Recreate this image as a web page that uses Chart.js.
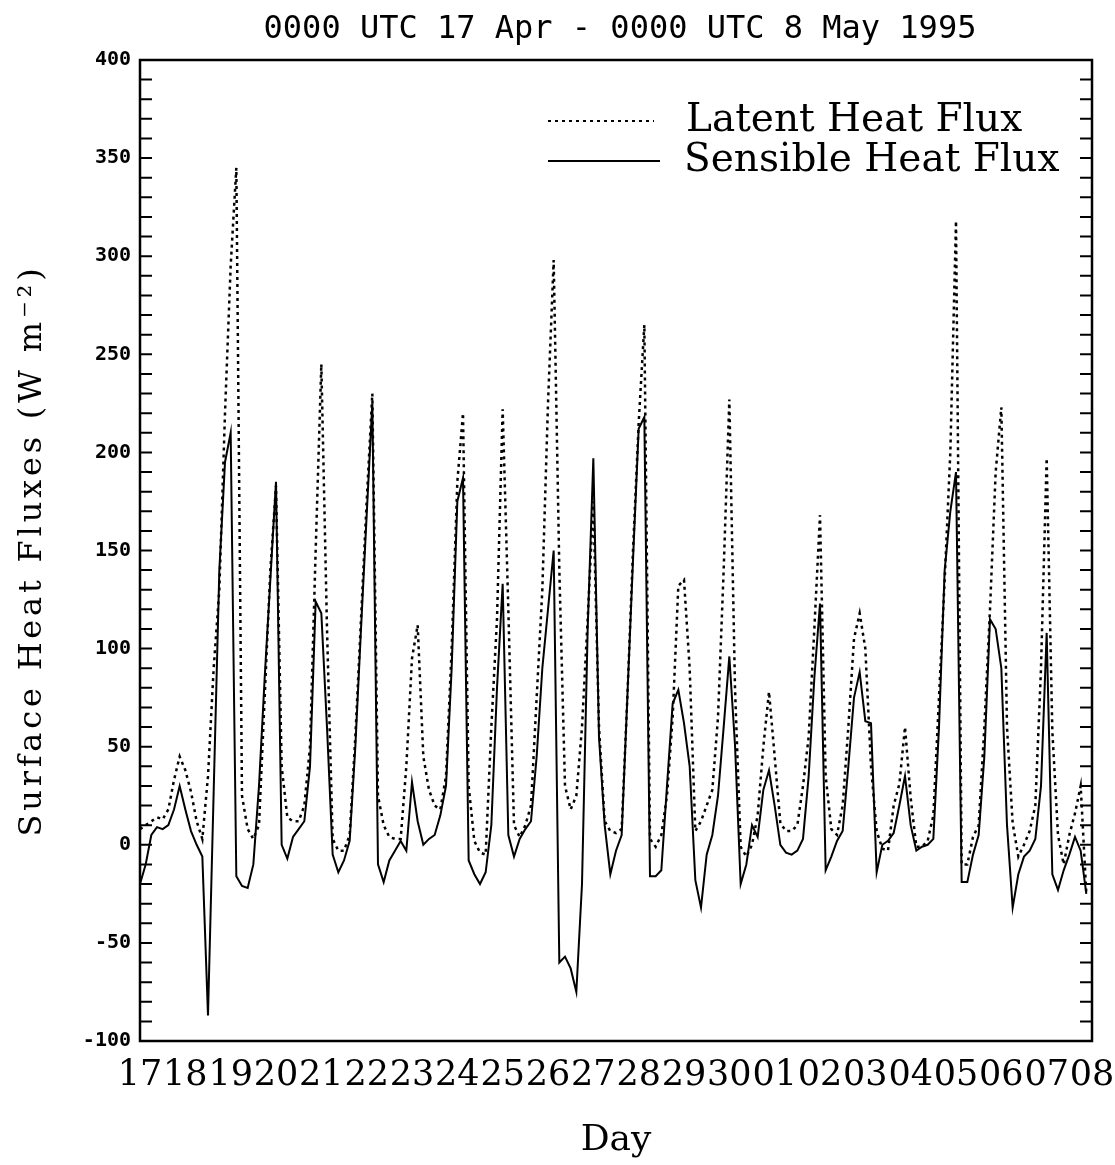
<!DOCTYPE html>
<html>
<head>
<meta charset="utf-8">
<script src="https://cdn.jsdelivr.net/npm/chart.js@4.4.1/dist/chart.umd.min.js"></script>
<style>
html,body{margin:0;padding:0;background:#fff;}
#wrap{width:1115px;height:1165px;position:relative;background:#fff;}
canvas{display:block;}
</style>
</head>
<body>
<div id="wrap"><canvas id="c" width="1115" height="1165"></canvas></div>
<script>
// ---- Data (3-hourly values, 8 per day, starting 0000 UTC 17 Apr 1995) ----
const dayLabels = ['17','18','19','20','21','22','23','24','25','26','27','28','29','30','01','02','03','04','05','06','07','08'];
const samplesPerDay = 8;

const latentHeatFlux = [
  8,10,12,14,13,18,33,45,
  38,27,12,3,35,90,130,220,
  295,345,25,8,3,10,75,140,
  183,40,14,12,12,20,50,150,
  245,110,3,-3,-3,5,55,115,
  175,230,25,10,4,3,3,40,
  95,112,45,28,20,18,35,100,
  185,220,30,2,-4,-5,60,115,
  222,120,10,4,10,20,75,130,
  225,298,140,30,18,25,60,115,
  175,60,12,7,6,8,75,150,
  215,265,3,-1,5,25,65,132,
  135,90,7,12,20,28,65,140,
  227,80,-1,-6,0,15,50,78,
  45,11,7,7,10,30,55,110,
  168,35,8,5,20,60,105,118,
  100,40,7,-2,-3,20,31,60,
  24,-1,-1,2,15,75,135,200,
  318,-10,-10,4,10,60,120,190,
  223,60,11,-6,0,7,20,90,
  197,58,5,-10,5,16,30,-25
];

const sensibleHeatFlux = [
  -20,-10,5,9,8,10,18,30,
  18,7,0,-6,-87,27,140,195,
  210,-16,-21,-22,-10,30,85,135,
  185,0,-7,4,8,12,40,124,
  118,60,-5,-14,-8,2,50,110,
  168,225,-10,-19,-8,-3,2,-3,
  32,12,0,3,5,15,30,90,
  175,187,-8,-15,-20,-14,10,80,
  133,5,-6,3,8,12,45,90,
  120,150,-60,-57,-63,-75,-20,110,
  197,55,10,-15,-3,5,75,145,
  212,218,-16,-16,-13,30,72,79,
  62,40,-18,-32,-5,5,25,60,
  96,51,-20,-10,10,4,28,38,
  20,0,-4,-5,-3,3,35,85,
  123,-13,-6,2,7,40,75,88,
  63,62,-14,0,2,6,20,35,
  10,-3,-1,0,3,60,140,170,
  190,-19,-19,-5,5,45,115,110,
  90,10,-32,-15,-6,-3,3,30,
  108,-15,-23,-13,-5,4,-3,-25
];

const yMin = -100, yMax = 400, yMajorStep = 50, yMinorStep = 10;
const chartTitle = '0000 UTC 17 Apr - 0000 UTC 8 May 1995';
const xTitle = 'Day';
const yTitle = 'Surface Heat Fluxes (W m\u207B\u00B2)';
const seriesNames = ['Latent Heat Flux', 'Sensible Heat Flux'];

const toPoints = arr => arr.map((v, i) => ({ x: i / samplesPerDay, y: v }));

// ---- Decorations: frame, inward ticks, titles, legend ----
const decor = {
  id: 'decor',
  afterDraw(chart) {
    const { ctx, chartArea: a, scales: { y } } = chart;
    ctx.save();
    ctx.strokeStyle = '#000';
    ctx.fillStyle = '#000';
    // frame
    ctx.lineWidth = 2.5;
    ctx.setLineDash([]);
    ctx.strokeRect(a.left, a.top, a.right - a.left, a.bottom - a.top);
    // inward ticks on left and right
    ctx.lineWidth = 2;
    for (let v = yMin; v <= yMax; v += yMinorStep) {
      const py = y.getPixelForValue(v);
      ctx.beginPath();
      ctx.moveTo(a.left, py); ctx.lineTo(a.left + 12, py);
      ctx.moveTo(a.right, py); ctx.lineTo(a.right - 12, py);
      ctx.stroke();
    }
    // chart title
    ctx.font = '32px "DejaVu Sans Mono"';
    ctx.textAlign = 'center';
    ctx.textBaseline = 'middle';
    ctx.fillText(chartTitle, 620, 30);
    // y-axis title (rotated, letter-spaced to mimic the monospaced original)
    ctx.save();
    ctx.translate(33, (a.top + a.bottom) / 2);
    ctx.rotate(-Math.PI / 2);
    ctx.font = '32px "DejaVu Serif"';
    const w0 = ctx.measureText(yTitle).width;
    const n = Array.from(yTitle).length;
    const targetLen = 572;
    if ('letterSpacing' in ctx) ctx.letterSpacing = Math.max(0, (targetLen - w0) / n) + 'px';
    ctx.textAlign = 'center';
    ctx.textBaseline = 'middle';
    ctx.fillText(yTitle, 0, 0);
    ctx.restore();
    // legend
    const rows = [
      { y: 121, x0: 548, x1: 654, tx: 686 },
      { y: 161, x0: 548, x1: 660, tx: 684 }
    ];
    ctx.font = '39px "DejaVu Serif"';
    ctx.textAlign = 'left';
    ctx.textBaseline = 'middle';
    chart.data.datasets.forEach((ds, i) => {
      const r = rows[i];
      ctx.lineWidth = 2;
      ctx.setLineDash(ds.borderDash || []);
      ctx.beginPath();
      ctx.moveTo(r.x0, r.y); ctx.lineTo(r.x1, r.y);
      ctx.stroke();
      ctx.setLineDash([]);
      ctx.fillText(ds.label, r.tx, r.y);
    });
    ctx.restore();
  }
};

new Chart(document.getElementById('c').getContext('2d'), {
  type: 'line',
  data: {
    datasets: [
      {
        label: seriesNames[0],
        data: toPoints(latentHeatFlux),
        borderColor: '#000',
        borderWidth: 2.5,
        borderDash: [3, 4],
        pointRadius: 0,
        tension: 0,
        fill: false
      },
      {
        label: seriesNames[1],
        data: toPoints(sensibleHeatFlux),
        borderColor: '#000',
        borderWidth: 2,
        pointRadius: 0,
        tension: 0,
        fill: false
      }
    ]
  },
  options: {
    responsive: false,
    animation: false,
    devicePixelRatio: 1,
    layout: { padding: { top: 60, right: 23, left: 0, bottom: 0 } },
    plugins: {
      legend: { display: false },
      title: { display: false },
      tooltip: { enabled: false }
    },
    scales: {
      x: {
        type: 'linear',
        min: 0,
        max: dayLabels.length - 1,
        afterFit(s) { s.height = 124; s.paddingLeft = 0; s.paddingRight = 0; },
        grid: { display: false, drawTicks: false },
        border: { display: false },
        ticks: {
          stepSize: 1,
          autoSkip: false,
          maxRotation: 0,
          padding: 14,
          color: '#000',
          font: { family: 'DejaVu Serif', size: 35 },
          callback: (v) => dayLabels[v]
        },
        title: {
          display: true,
          text: xTitle,
          color: '#000',
          font: { family: 'DejaVu Serif', size: 36 },
          padding: { top: 0, bottom: 3 }
        }
      },
      y: {
        min: yMin,
        max: yMax,
        afterFit(s) { s.width = 140; s.paddingTop = 0; s.paddingBottom = 0; },
        grid: { display: false, drawTicks: false },
        border: { display: false },
        ticks: {
          stepSize: yMajorStep,
          padding: 9,
          color: '#000',
          font: { family: 'DejaVu Sans Mono', size: 20, weight: 'bold' }
        }
      }
    }
  },
  plugins: [decor]
});
</script>
</body>
</html>
